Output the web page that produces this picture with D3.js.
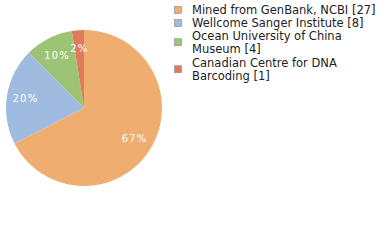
<!DOCTYPE html>
<html>
<head>
<meta charset="utf-8">
<script src="https://cdn.jsdelivr.net/npm/d3@7"></script>
<style>
  body { margin: 0; background: #fff; }
  svg text { font-family: "DejaVu Sans", sans-serif; }
</style>
</head>
<body>
<div id="chart"></div>
<script>
var names = ["Mined from GenBank, NCBI [27]", "Wellcome Sanger Institute [8]",
  "Ocean University of China Museum [4]", "Canadian Centre for DNA Barcoding [1]"]
var legendLines = [["Mined from GenBank, NCBI [27]"], ["Wellcome Sanger Institute [8]"],
  ["Ocean University of China", "Museum [4]"], ["Canadian Centre for DNA", "Barcoding [1]"]]
var counts = [27, 8, 4, 1]
var colors = ["#efad6f", "#9fbce0", "#9dc474", "#df7a5c"]

var width = 380, height = 240
var cx = 84, cy = 108, radius = 78

var svg = d3.select("#chart").append("svg")
  .attr("width", width)
  .attr("height", height)

var total = d3.sum(counts)
var pie = d3.pie().sort(null).value(d => d)
var arcs = pie(counts)
var arc = d3.arc().innerRadius(0).outerRadius(radius)
var labelArc = d3.arc().innerRadius(radius * 0.76).outerRadius(radius * 0.76)

var g = svg.append("g")
  .attr("transform", "translate(" + cx + "," + cy + ")")

g.selectAll("path")
  .data(arcs)
  .enter()
  .append("path")
  .attr("d", arc)
  .attr("fill", (d, i) => colors[i])

g.selectAll("text")
  .data(arcs)
  .enter()
  .append("text")
  .attr("transform", d => "translate(" + labelArc.centroid(d) + ")")
  .attr("text-anchor", "middle")
  .attr("dy", "0.35em")
  .attr("fill", "#fff")
  .attr("font-size", 10)
  .attr("letter-spacing", 1.2)
  .text(d => Math.floor(d.data / total * 100) + "%")

// legend
var lineH = 12.5
var legend = svg.append("g")
var y = 10
legendLines.forEach(function (lines, i) {
  var n = lines.length
  var mid = y + (n - 1) * lineH / 2
  legend.append("rect")
    .attr("x", 174.5)
    .attr("y", mid - 3.5)
    .attr("width", 7)
    .attr("height", 7)
    .attr("fill", colors[i])
    .attr("stroke", "#888")
    .attr("stroke-width", 0.6)
  lines.forEach(function (t, j) {
    legend.append("text")
      .attr("x", 192)
      .attr("y", y + j * lineH)
      .attr("dy", "0.35em")
      .attr("font-size", 11.5)
      .attr("fill", "#222")
      .text(t)
  })
  y += n * lineH + (n > 1 ? 2 : 0.5)
})
</script>
</body>
</html>
